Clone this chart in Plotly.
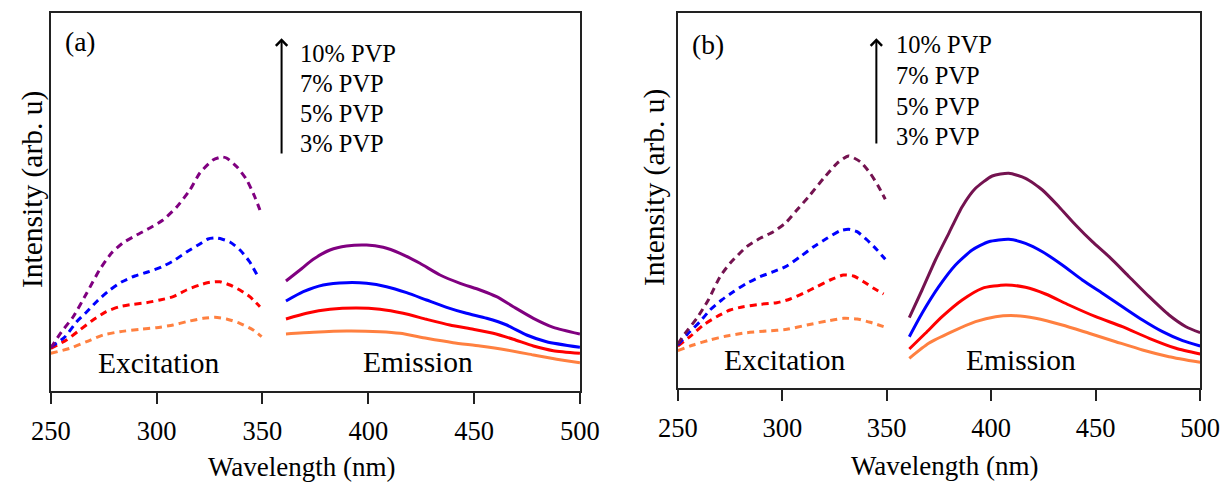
import plotly.graph_objects as go

W, H = 1223, 483
FONT = "Liberation Serif"
# Observed picture mapping: picture_x ~= X_OFF + X_SCALE * page_x (vertical 1:1)
X_OFF, X_SCALE = 20.2, 0.967

# ---------- data (intensity in arbitrary units) ----------
# Panel (a) excitation
a_exc_x_p = [250, 255, 260.5, 267, 273, 278.7, 284, 290.6, 296.8, 303, 309.5, 315.7, 320.4, 326.6, 330.8, 333, 338, 342.6, 346.4, 348.8]
a_exc_y_p = [48, 64, 79, 103, 126, 143, 153, 161, 168, 176, 189, 206, 223, 236, 239, 238, 229, 216, 199, 186]
a_exc_x_b = [250, 256.6, 262.1, 266.9, 272.4, 277.9, 283.4, 289.7, 295.8, 302.3, 308.6, 314.1, 319.6, 324.3, 327.5, 330.7, 334.6, 339.4, 344, 348]
a_exc_y_b = [49, 59, 74, 84, 96, 106, 114, 120, 124, 129, 136, 144, 151, 157, 158, 157, 154, 146, 134, 119]
a_exc_x_r = [250, 257.4, 263.7, 269.9, 276.2, 282.5, 288.9, 295.2, 301.5, 307.8, 314.1, 320.4, 325.1, 329.9, 334.6, 339.3, 344, 348.8]
a_exc_y_r = [47.7, 56, 66, 76, 84.3, 89.3, 91.7, 93.3, 96, 99.3, 106, 111, 113.7, 114.3, 111, 106, 99.3, 89.3]
a_exc_x_o = [250, 259, 266.9, 274.7, 282.6, 292.1, 299.9, 307.8, 314.1, 322, 327.5, 333, 339.3, 345.6, 349.6]
a_exc_y_o = [42.7, 47.7, 54.3, 61, 64.3, 66.7, 68.3, 71, 74.3, 77.7, 78.7, 77, 72.7, 66, 59.3]

# Panel (a) emission
a_em_x_p = [361.1, 367.7, 374, 381.9, 389.7, 399.2, 407, 415, 424.4, 433.9, 443.4, 452.8, 460.6, 468.5, 478, 487.4, 500]
a_em_y_p = [115, 126, 136.7, 146, 150, 151, 148.7, 142.7, 132.7, 121, 112.7, 106, 99.3, 89.3, 77.7, 68.7, 62]
a_em_x_b = [361.1, 369.3, 378.7, 389.7, 399.2, 408.6, 418.1, 427.5, 437, 446.4, 455.9, 465.4, 474.8, 484.2, 500]
a_em_y_b = [95, 104.3, 111, 113.3, 112.7, 109.3, 103.3, 96, 88.7, 82.7, 77.7, 71, 61, 54.3, 48.7]
a_em_x_r = [361.1, 370.8, 381.9, 394.5, 405.5, 416.5, 427.5, 438.5, 449.6, 459, 468.5, 478, 487.4, 500]
a_em_y_r = [77, 82.7, 86.7, 88, 86.7, 82.7, 76.7, 71, 66.7, 62.7, 56.7, 50, 45.3, 42.7]
a_em_x_o = [361.1, 374, 389.7, 405.5, 415, 427.5, 440.1, 452.8, 465.4, 478, 489, 500]
a_em_y_o = [62, 63.7, 65, 64.3, 62.7, 57.7, 53.3, 50, 46, 41, 36.7, 33.3]

# Panel (b) excitation
b_exc_x_p = [250, 253.5, 259.1, 264.6, 270.2, 275, 283, 289.4, 295.8, 301.4, 307, 312.6, 319.8, 326.2, 331.7, 337.3, 342.1, 346.1, 349.3]
b_exc_y_p = [52, 62.7, 77.7, 96, 119.3, 132.7, 149.3, 157.7, 164.3, 172.7, 186, 199.3, 217.7, 232.7, 240, 234.3, 222.7, 209.3, 196.7]
b_exc_x_b = [250, 255, 260.6, 265.4, 271, 276.6, 283, 289.4, 295.8, 302.2, 308.6, 315, 321.4, 327.8, 331.7, 335.8, 340.6, 345.4, 349.3]
b_exc_y_b = [51, 62.7, 74.3, 86, 96, 104.3, 112.7, 119.3, 124.3, 130, 139.3, 149.3, 157.7, 165.3, 166.7, 164.3, 156, 146, 136.7]
b_exc_x_r = [250, 255.8, 262.2, 268.6, 275, 281.4, 289.4, 297.4, 303.8, 310.1, 316.5, 322.9, 329.3, 334.1, 338.9, 343.7, 348.5]
b_exc_y_r = [50, 59.3, 71, 79.3, 86, 89.3, 91.7, 93.3, 97, 102.7, 109.3, 116, 121, 120, 114.3, 107.7, 102]
b_exc_x_o = [250, 257.4, 265.4, 273.4, 283, 292.6, 302.2, 311.8, 321.4, 329.3, 335.8, 342.1, 348.5]
b_exc_y_o = [45.3, 51, 56, 60, 63.3, 65, 66.7, 71, 75, 77.7, 77, 73.7, 69.3]

# Panel (b) emission
b_em_x_p = [360.8, 366.9, 373.3, 379.7, 386.1, 392.5, 400.5, 408.4, 416.4, 424.5, 432.4, 440.4, 448.4, 456.4, 466, 475.6, 485.1, 493.2, 500]
b_em_y_p = [78.3, 106, 136, 162.7, 189.3, 207.7, 220, 222.7, 217.7, 206, 189.3, 171, 154.3, 139.3, 119.3, 99.3, 81, 69.3, 63.3]
b_em_x_b = [360.8, 366.9, 374.9, 382.9, 390.9, 398.8, 408.4, 416.4, 424.5, 434, 443.6, 453.2, 462.8, 472.4, 482, 491.6, 500]
b_em_y_b = [59.3, 82.7, 109.3, 131, 146, 154.3, 156.7, 152.7, 144.3, 131, 116, 102.7, 89.3, 76, 64.3, 55.3, 50]
b_em_x_r = [360.8, 368.5, 376.5, 386.1, 395.7, 406.9, 416.4, 426, 437.2, 450, 462.8, 475.6, 488.4, 500]
b_em_y_r = [47, 62.7, 79.3, 96, 107.7, 111, 108.7, 102, 91, 79.3, 69.3, 57.7, 47.7, 42]
b_em_x_o = [360.8, 370.1, 381.3, 392.5, 402.1, 411.7, 421.2, 434, 446.8, 459.6, 472.4, 485.1, 500]
b_em_y_o = [37.7, 52.7, 64.3, 74.3, 79.3, 80.3, 77.7, 71, 62.7, 54.3, 46, 39.3, 33.7]

x_ticks = [250, 300, 350, 400, 450, 500]
pvp_labels = ["10% PVP", "7% PVP", "5% PVP", "3% PVP"]

COL_O, COL_R, COL_B = "#FF8040", "#FF0000", "#0000FF"
COL_PA, COL_PB = "#800080", "#741350"

fig = go.Figure()

def add(x, y, color, dashed, xa, ya):
    fig.add_trace(go.Scatter(
        x=x, y=y, mode="lines", xaxis=xa, yaxis=ya, showlegend=False,
        line=dict(color=color, width=3, shape="spline", smoothing=0.6,
                  dash="7px,5px" if dashed else "solid"),
        hoverinfo="skip"))

for (x, y, c) in [(a_exc_x_o, a_exc_y_o, COL_O), (a_exc_x_r, a_exc_y_r, COL_R),
                  (a_exc_x_b, a_exc_y_b, COL_B), (a_exc_x_p, a_exc_y_p, COL_PA)]:
    add(x, y, c, True, "x", "y")
for (x, y, c) in [(a_em_x_o, a_em_y_o, COL_O), (a_em_x_r, a_em_y_r, COL_R),
                  (a_em_x_b, a_em_y_b, COL_B), (a_em_x_p, a_em_y_p, COL_PA)]:
    add(x, y, c, False, "x", "y")
for (x, y, c) in [(b_exc_x_o, b_exc_y_o, COL_O), (b_exc_x_r, b_exc_y_r, COL_R),
                  (b_exc_x_b, b_exc_y_b, COL_B), (b_exc_x_p, b_exc_y_p, COL_PB)]:
    add(x, y, c, True, "x2", "y2")
for (x, y, c) in [(b_em_x_o, b_em_y_o, COL_O), (b_em_x_r, b_em_y_r, COL_R),
                  (b_em_x_b, b_em_y_b, COL_B), (b_em_x_p, b_em_y_p, COL_PB)]:
    add(x, y, c, False, "x2", "y2")

# target picture pixel -> paper fraction (body margin removed below)
def px(xp):
    return ((xp - X_OFF) / X_SCALE) / W

def py(yp):
    return 1 - yp / H

axis_common = dict(showline=True, linecolor="#222", linewidth=1.6, mirror=True,
                   showgrid=False, zeroline=False)
xcommon = dict(axis_common, range=[250, 500], tickvals=x_ticks, ticks="outside",
               ticklen=11, tickwidth=1.5, tickcolor="#222",
               tickfont=dict(family=FONT, size=26.5, color="black"),
               ticklabelstandoff=5)
ycommon = dict(axis_common, showticklabels=False, ticks="")

fig.update_layout(
    width=W, height=H, margin=dict(l=0, r=0, t=0, b=0),
    paper_bgcolor="white", plot_bgcolor="white",
    xaxis=dict(xcommon, domain=[px(51), px(580)], anchor="y"),
    yaxis=dict(ycommon, domain=[py(390.7), py(12.7)], range=[5.3, 383.3], anchor="x"),
    xaxis2=dict(xcommon, domain=[px(677.8), px(1200)], anchor="y2"),
    yaxis2=dict(ycommon, domain=[py(387.7), py(12.7)], range=[8.3, 383.3], anchor="x2"),
)

ann = []
def text(x, y, s, size, xanchor="center", angle=0, xpaper=None):
    ann.append(dict(x=px(x) if xpaper is None else xpaper, y=py(y), xref="paper", yref="paper",
                    text=s, showarrow=False, xanchor=xanchor, yanchor="middle", textangle=angle,
                    font=dict(family=FONT, size=size, color="black")))

# Panel (a)
text(63, 41, "(a)", 27.5, "left")
for i, lab in enumerate(pvp_labels):
    text(298, 53.3 + 30 * i, lab, 24.5, "left")
text(159, 363, "Excitation", 29.5)
text(418, 362, "Emission", 29.5)
text(0, 190, "Intensity (arb. u)", 29.5, angle=-90, xpaper=12.5 / W)
text(302, 467, "Wavelength (nm)", 27)
# Panel (b)
text(690, 44, "(b)", 27.5, "left")
for i, lab in enumerate(pvp_labels):
    text(894, 45 + 30.5 * i, lab, 24.5, "left")
text(784, 360, "Excitation", 29.5)
text(1021, 360, "Emission", 29.5)
text(654, 187, "Intensity (arb. u)", 29.5, angle=-90)
text(945, 466, "Wavelength (nm)", 27)

# arrows
for (xa, ytop, ybot) in [(281.7, 38.3, 155), (876.3, 38.3, 145)]:
    ann.append(dict(x=px(xa), y=py(ytop), xref="paper", yref="paper",
                    ax=0, ay=ybot - ytop, axref="pixel", ayref="pixel",
                    showarrow=True, arrowhead=4, arrowsize=1.1, arrowwidth=2,
                    arrowcolor="black", text=""))

fig.update_layout(annotations=ann)
fig.write_html("out.html", config={"displayModeBar": False},
               post_script="document.body.style.margin='0';")
